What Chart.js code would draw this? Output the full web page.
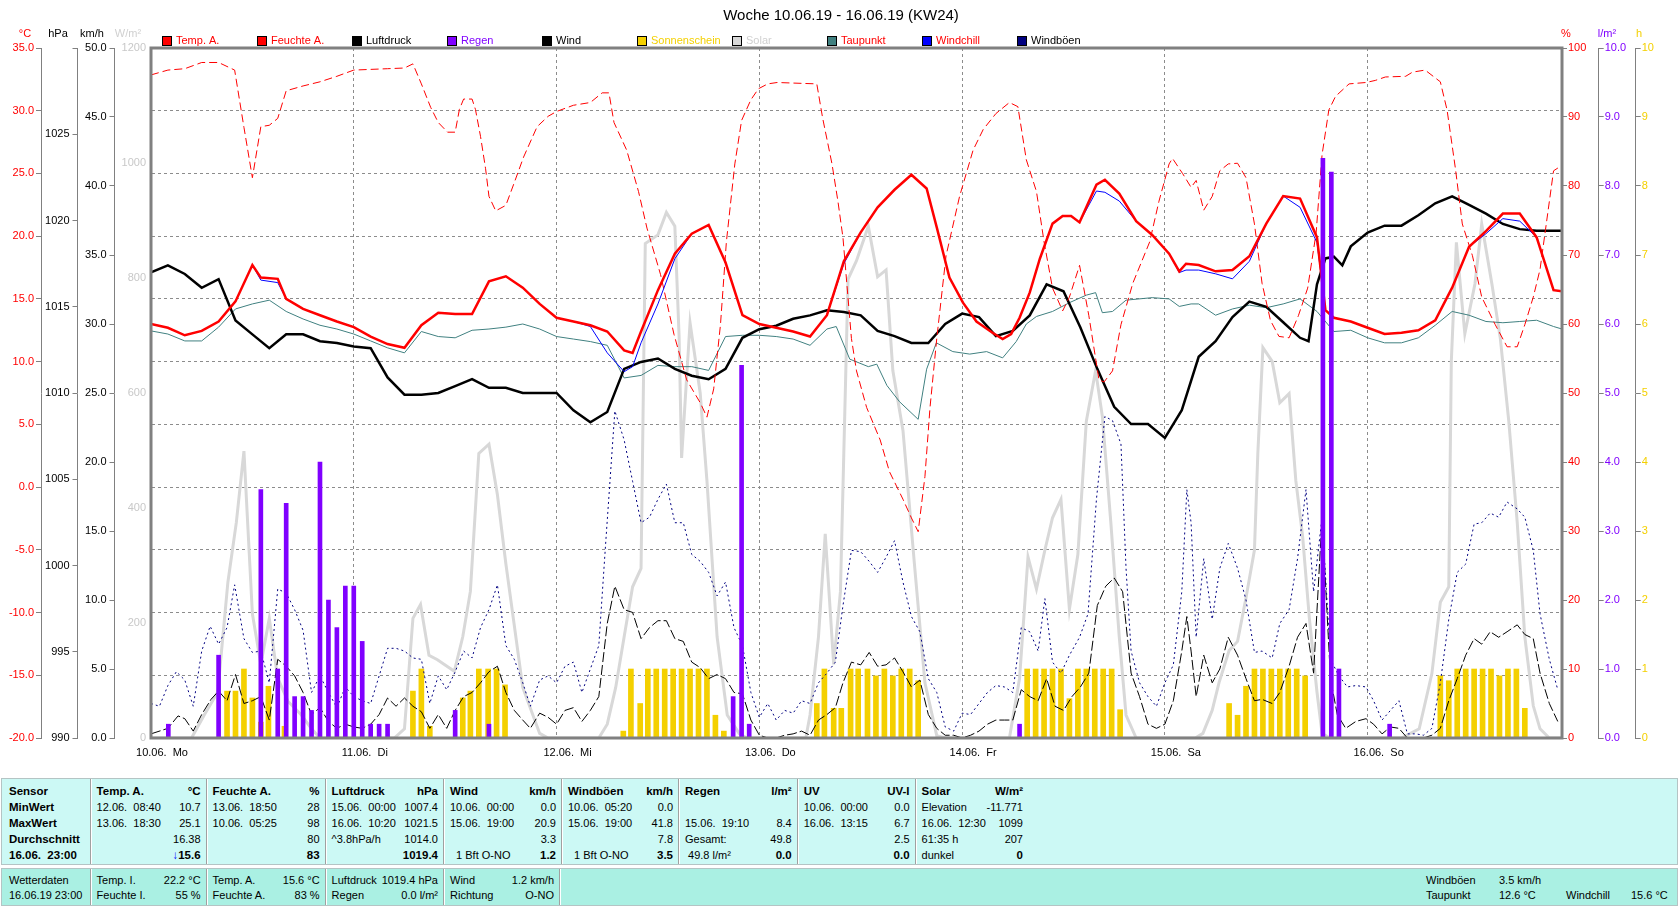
<!DOCTYPE html>
<html>
<head>
<meta charset="utf-8">
<script src="https://cdn.jsdelivr.net/npm/chart.js@4.4.1/dist/chart.umd.min.js"></script>
<style>
  html, body { margin: 0; padding: 0; background: #fff; }
  body { width: 1680px; height: 909px; position: relative; overflow: hidden;
         font-family: "Liberation Sans", Arial, sans-serif; font-size: 11px; color: #000; }
  #wrap { position: absolute; left: 0; top: 0; width: 1680px; height: 770px; }
  .panel { position: absolute; left: 1px; width: 1677px; box-sizing: border-box;
           border: 1px solid #b4c4c4; }
  #stats { top: 778px; height: 87px; background: #ccf9f5; }
  #now { top: 868px; height: 38px; background: #aaf0e3; }
  .col { position: absolute; top: 0; box-sizing: border-box; padding: 4px 6px 0 6px; }
  .row { display: flex; justify-content: space-between; white-space: pre; }
  #stats .row { height: 16px; line-height: 16px; }
  #now .row { height: 15px; line-height: 15px; }
  .b { font-weight: bold; font-size: 11.5px; }
  .sep { position: absolute; top: 0; bottom: 0; width: 1px; background: #a0a0a0;
         box-shadow: 1px 0 0 #fff; }
  .free { position: absolute; white-space: pre; line-height: 15px; }
</style>
</head>
<body>
<div id="wrap"><canvas id="chart" width="1680" height="770"></canvas></div>
<div id="stats" class="panel"></div>
<div id="now" class="panel"></div>
<script>
// ---- chart data (x = hours since 10.06. 00:00) ----
const chartTitle = "Woche 10.06.19 - 16.06.19 (KW24)";
const dayLabels = ["10.06.  Mo", "11.06.  Di", "12.06.  Mi", "13.06.  Do", "14.06.  Fr", "15.06.  Sa", "16.06.  So"];

const tempHours = [0,2,4,6,8,10,12,13,15,16,18,20,22,24,26,28,30,32,34,36,38,40,42,44,46,48,50,52,54,56,57,58,60,62,64,66,68,70,72,74,76,78,80,82,84,86,88,90,91.8,93,94.5,96.1,97.7,99.6,100.8,101.8,102.8,104,105.2,106.7,107.9,108.9,109.9,111.9,112.9,114.6,116.6,118.5,120.5,121.7,122.5,124,126,128,130,132,134,136,138,139,140,142,144,146,148,150,152,154,156,158,160,162,164,166,167];
const tempValues = [13.0,12.7,12.1,12.45,13.2,14.8,17.7,16.7,16.6,15.0,
  14.2,13.7,13.2,12.75,12.0,11.4,11.1,12.9,13.9,13.8,
  13.8,16.4,16.8,15.9,14.6,13.5,13.2,12.9,12.4,10.9,
  10.7,12.4,15.7,18.6,20.2,20.9,17.9,13.7,13.0,12.7,
  12.4,12.0,13.7,18.0,20.3,22.3,23.7,24.9,23.8,20.7,
  16.7,14.7,13.2,12.3,11.8,12.2,13.5,15.5,18.2,21.0,
  21.6,21.6,21.1,24.1,24.5,23.4,21.2,20.1,18.6,17.2,
  17.8,17.7,17.2,17.3,18.4,21.0,23.2,23.0,19.9,14.1,
  13.5,13.2,12.7,12.2,12.3,12.5,13.3,15.9,19.15,20.4,
  21.8,21.8,19.9,15.7,15.6];
const windchillValues = [13.0,12.7,12.1,12.45,13.2,14.8,17.7,16.5,16.3,15.0,
  14.2,13.7,13.2,12.75,12.0,11.4,11.1,12.9,13.9,13.8,
  13.8,16.4,16.8,15.9,14.6,13.5,13.2,12.8,10.7,9.2,
  9.6,11.5,14.6,18.2,20.2,20.9,17.9,13.7,13.0,12.7,
  12.4,12.0,13.7,17.8,20.3,22.3,23.7,24.9,23.8,20.7,
  16.7,14.7,13.2,12.3,11.8,12.2,13.5,15.5,18.2,21.0,
  21.6,21.6,21.1,23.6,23.5,22.8,21.2,20.1,18.6,17.1,
  17.3,17.3,17.0,16.6,18.0,21.0,23.2,22.3,19.5,14.1,
  13.5,13.2,12.7,12.2,12.3,12.5,13.3,15.9,19.15,20.2,
  21.4,21.2,19.9,15.7,15.6];

const dewHours = [0,2,4,6,8,10,12,14,16,18,20,22,24,26,28,30,32,34,36,38,40,42,44,46,48,50,52,54,56,58,60,62,64,66,68,70,72,74,76,78,80,
  81.1,82.7,84.9,85.9,87.1,88.6,90.8,91.8,92.95,94.9,96.9,98.9,100.8,102.4,103.6,104.8,106.7,108.7,110.7,111.8,112.6,113.8,115.4,118.5,120.5,121.7,123.1,
  124,126,128,130,132,134,136,138,140,142,144,146,148,150,152,154,156,158,160,162,164,166,167];
const dewValues = [12.45,12.2,11.65,11.65,12.75,14.2,14.6,14.9,14.0,13.4,
  12.9,12.6,12.2,11.65,11.1,10.7,12.4,12.0,11.9,12.5,
  12.6,12.75,13.0,12.6,12.0,11.8,11.6,11.3,8.7,8.9,
  9.7,9.6,9.6,9.3,12.0,12.1,12.1,12.0,11.8,11.3,12.6,
  12.8,10.2,9.6,9.8,8.1,6.8,5.4,9.4,11.5,10.8,
  10.6,10.8,10.3,11.6,13.0,13.6,14.0,14.7,15.3,15.5,
  13.9,14.0,14.9,15.1,15.0,14.4,14.6,
  14.6,13.7,14.2,14.5,14.3,14.6,15.0,14.0,12.4,12.5,
  11.9,11.5,11.5,11.9,12.9,14.0,13.7,13.2,13.1,13.2,
  13.3,12.8,12.6];

const pressHours = [0,2,4,6,8,10,12,14,16,18,20,22,24,26,28,30,32,34,36,38,40,42,44,46,48,50,52,54,56,58,60,62,64,66,68,70,72,74,76,78,80,82,84,86,88,90,92,94,96,98,100,102,104,106,108,110,112,114,116,118,120,122,124,126,128,130,132,134,136,
  137,138,139,140,141,142,144,146,148,150,152,154,156,158,160,162,164,166,167];
const pressValues = [1017.0,1017.4,1016.9,1016.1,1016.6,1014.2,1013.4,1012.6,1013.4,1013.4,
  1013.0,1012.9,1012.7,1012.6,1010.9,1009.9,1009.9,1010.0,1010.4,1010.8,
  1010.3,1010.3,1010.0,1010.0,1010.0,1009.0,1008.3,1008.9,1011.4,1011.8,
  1012.0,1011.4,1011.0,1010.8,1011.4,1013.2,1013.7,1013.9,1014.3,1014.5,
  1014.8,1014.7,1014.5,1013.6,1013.3,1012.9,1012.9,1014.0,1014.6,1014.4,
  1013.3,1013.6,1014.5,1016.3,1015.9,1013.8,1011.4,1009.2,1008.2,1008.2,
  1007.4,1009.0,1012.1,1013.0,1014.4,1015.3,1015.0,1014.1,1013.2,
  1013.0,1016.3,1017.8,1017.9,1017.4,1018.5,1019.3,1019.7,1019.7,1020.3,
  1021.0,1021.4,1020.9,1020.4,1019.8,1019.5,1019.4,1019.4,1019.4];

const humHours = [0,2,4,6,8,9.9,11,12,13,14,15,16,18,20,22,24,26,28,30,31,32,33.1,34,35.1,36,36.5,37,38,38.4,39,39.6,40,40.8,42,43,44.1,45.7,47,48,50,52,53.4,54.2,54.8,56.3,57.7,58.7,60.3,61.9,63.4,65,65.8,66.6,67.4,68.1,69.1,69.9,71,71.9,73,74.1,78.8,79.5,80.6,81.3,81.9,82.9,83.5,84.7,86.3,87.4,89,90,90.8,91.6,92.2,93,94.1,95.7,97.3,98.5,100,101.6,102.6,103.6,104.8,105.7,106.7,107.9,108.7,109.9,111,112.2,112.8,113.8,114.8,116.2,118.2,119.3,120.5,120.9,122.1,123.1,123.7,124.6,125.6,126.5,127.5,128.6,129.6,130.6,131.5,132.5,133.5,134.7,135.8,136.9,137.9,138.6,139.4,140.2,141.8,143.8,144.9,146.1,148.5,149.3,150.8,152.6,153.4,154.4,155.2,156.4,157.5,159.1,160.5,161.7,162.6,163.6,164.4,166,167];
const humValues = [96.1,96.8,97.0,97.9,97.9,96.8,88.5,81.2,88.6,88.8,89.8,93.8,94.5,95.1,95.9,96.8,96.9,97.0,97.1,97.7,94.8,91.4,89.2,87.8,87.8,91.1,92.6,92.6,91.1,87.2,82.5,78.5,76.4,77.2,80.5,84.2,88.6,90.1,90.8,91.7,92.1,93.5,93.5,89.2,85.2,79.2,73.9,67.2,58.5,51.9,48.6,46.5,50.6,59.9,71.9,83.2,89.5,92.5,94.1,94.8,95.0,94.8,89.8,83.2,77.8,72.5,57.9,53.2,47.9,43.2,38.6,34.6,31.9,29.9,37.9,47.9,57.9,69.9,78.5,85.2,88.2,90.5,92.1,91.5,83.8,79.2,71.9,65.2,61.9,63.9,68.5,61.2,51.9,51.6,53.2,59.9,65.9,71.9,77.8,83.2,84.0,81.8,79.8,80.8,76.5,78.5,82.2,83.2,83.3,81.2,74.5,65.9,60.5,58.2,58.0,61.2,65.2,73.2,84.5,91.0,93.0,94.8,95.0,95.3,95.8,95.9,96.5,96.8,95.1,91.0,82.4,74.5,69.9,63.9,59.9,56.7,56.7,59.9,63.9,67.9,82.2,83];

const solarHours = [0,4.8,6.3,7.9,9.1,10.1,11,12,13,14,15,16.2,17.8,19,20,28.8,30,31,31.9,32.9,33.9,35.9,36.9,37.8,38.8,40,41,42,44,46,47,53,54,55,56,57,58,58.5,60,61,62,62.5,62.8,63.8,65,65.8,67,68.2,69.6,70.5,77.5,78,79,79.8,80.8,81.6,82.5,83.5,84.9,86,87,87.8,89,90.4,91.6,93,94,101.6,102.8,103.8,104.8,105.8,106.7,107.7,108.7,109.7,110.7,111.8,112.6,113.6,114.6,115.4,116.6,123.6,124.5,125.6,126.4,127.6,128.6,129.6,130.6,131,131.6,132.7,133.6,134.7,135.5,136.3,137.1,138,138.6,139.5,148,150.1,151.6,152.6,153.6,153.9,154.5,155.5,156.7,157.5,158.7,159.7,160.7,161.7,162.6,163.6,164.4,165.5,167];
const solarValues = [0,0,40,80,271,375,499,216,128,208,104,64,40,16,0,0,16,208,232,144,136,116,176,255,495,511,423,303,88,8,0,0,24,88,176,263,295,860,875,914,890,700,487,722,600,447,176,40,8,0,0,40,176,355,128,255,798,830,890,802,814,639,535,295,96,4,0,0,104,315,259,327,383,415,224,319,551,639,559,375,176,40,0,0,8,48,96,152,168,244,327,495,679,655,583,599,447,351,208,80,8,0,0,16,112,236,263,655,862,703,790,894,790,695,551,375,176,56,16,0,0];

const windHours = [0,2,3.2,4,5,6,7.1,8,9,10,11,12,13,14,15,16,17,18,19,20,21,22,23,24,25,26,27,28,29,30,31,32,33,34,35,36,37,38,39,40,41,42,43,44,44.9,46,47,48,49,50,51,52,53,54,54.9,56,57,58,59,60,61,62,63,64,65,66,67,68,69,70,71,72,73,74,75,76,77,78,79,80,81,81.9,82.9,84,85,86,87,88,89,90,91,92,93,94,95,96,97,98,99,100,101,102,103,104,105,106,107,108,109,110,111,112,113,114,115,116,117,118,119,120,121,122,122.6,123.1,123.7,124.6,125.6,126.5,127.5,128.6,129.6,130.6,131.5,132.7,133.6,134.7,135.7,136.7,137.6,138.6,139.6,140.4,141.4,142.6,143.8,144.7,145.7,146.7,147.7,148.7,149.7,150.6,151.6,152.6,153.6,154.6,155.6,156.6,157.5,158.5,159.5,160.5,161.7,162.6,163.6,164.4,165.5,166.5];
const windValues = [0.3,0.7,1.6,1.4,0.5,1.7,2.8,3.4,2.7,4.6,2.5,2.7,3.0,1.3,5.7,5.2,4.5,3.3,1.7,2.2,1.2,0.7,1.0,0.8,0.7,1.0,1.7,2.9,2.3,2.9,2.3,1.9,0.7,1.7,0.7,2.0,3.0,3.3,4.0,4.8,5.2,3.3,2.0,1.3,0.7,1.8,1.5,1.0,2.0,2.2,1.2,2.0,3.0,8.3,11.0,9.3,9.1,7.2,8.0,8.5,8.5,7.2,7.0,5.5,5.1,4.3,4.6,4.3,3.3,3.2,1.3,0.2,0,0,0.2,0.3,0.5,0.2,1.3,1.7,2.2,4.0,5.5,5.3,6.2,5.2,5.3,5.8,4.8,3.7,4.2,1.7,0.7,0.2,0.2,0,0.2,0.5,1.0,1.3,1.3,1.3,3.5,3.0,2.7,4.3,2.3,2.0,3.0,3.7,4.7,9.6,11.0,11.6,10.6,4.7,3.0,1.0,0.7,1.0,2.7,6.3,8.8,6.3,3.0,6.0,4.0,5.0,7.3,6.0,4.3,2.7,2.8,2.5,3.3,5.2,7.3,8.3,4.7,16.0,4.3,1.7,0.7,1.2,1.4,1.0,0.3,0.8,0.7,0,0,0,0.2,0.7,2.7,4.3,6.0,7.2,6.8,7.7,7.3,7.7,8.2,7.5,7.2,4.7,2.5,1.2];

const gustHours = [0,1,2,3,4,5,6,7,8,9,9.9,11,12,13,14,15,16,17,18,19,20,21,22,23,24,25,26,27,28,29,30,31,32,33,34,35,36,37,38,39,40,41,42,43,44,44.9,46,47,48,49,50,51,52,53,53.8,54.9,56,57,58,59,60,61,62,63,64,65,66,67,68,69,70,71,72,73,74,75,76,77,78,79,80,81,81.9,82.9,84,85,86,87,88,89,90,91,92,93,94,95,96,97,98,99,100,101,102,103,104,105,105.8,106.7,107.7,108.7,109.9,110.9,111.9,112.9,113.8,114.8,115.4,116,117,118,119,120,121,122,122.6,123.1,123.7,124.6,125.6,126.5,127.5,128.6,129.6,130.6,131.5,132.7,133.6,134.7,135.7,136.7,137.6,138.6,139.6,140.6,141.6,142.6,143.8,144.7,145.7,146.7,147.7,148.7,149.7,150.6,151.6,152.6,153.6,154.6,155.6,156.6,157.5,158.5,159.5,160.5,161.7,162.6,163.6,164.4,165.5,166.5];
const gustValues = [2.5,2.3,3.8,4.8,4.2,2.3,6.3,8.1,6.8,8.0,11.1,7.2,6.2,6.3,4.0,10.8,10.5,9.3,7.8,3.3,4.5,3.3,2.2,3.7,3.0,2.7,2.5,4.5,6.5,6.5,6.3,5.8,5.7,2.5,4.5,3.5,4.8,6.3,5.8,8.0,9.3,11.1,6.7,5.7,4.0,2.3,4.2,4.5,4.0,5.2,5.5,3.3,5.0,6.7,14.0,23.7,21.6,18.6,15.6,16.0,17.3,18.4,15.6,15.6,13.3,12.8,12.0,10.3,11.3,8.0,6.7,3.3,1.5,2.5,1.3,2.0,1.8,2.7,2.5,4.0,4.7,5.5,9.6,13.6,13.5,12.8,12.0,13.1,14.3,11.3,8.8,7.7,4.3,3.3,0.8,0.5,1.8,1.7,2.5,3.3,3.8,3.7,3.3,8.0,7.7,6.3,10.1,5.5,4.7,6.0,7.3,9.0,17.3,23.3,23.0,21.3,12.3,6.3,4.0,3.0,2.3,4.0,5.3,10.6,18.0,15.6,7.3,13.0,8.6,12.3,14.1,12.3,10.0,6.2,6.3,5.8,8.3,9.3,13.0,18.0,10.6,16.0,5.7,4.5,3.7,3.8,3.7,2.7,1.3,2.0,2.7,0.3,0.3,0.2,0.7,4.0,8.6,12.0,12.6,15.5,15.6,16.3,16.0,17.1,16.6,16.0,13.6,9.0,5.7,3.5];

const rainHours = [2.05,8,13,15,16,17,18,19,20,21,22,23,24,25,26,27,28,36,40,68.9,69.9,70.8,102.8,138.7,139.7,140.6,146.6];
const rainValues = [0.2,1.2,3.6,1.0,3.4,0.6,0.6,0.4,4.0,2.0,1.6,2.2,2.2,1.4,0.2,0.2,0.2,0.4,0.2,0.6,5.4,0.2,0.2,8.4,8.2,1.0,0.2];

const sunHours = [9,10,11,12,13,13.9,15.8,31,32,33,36.9,37.8,38.8,39.9,40.9,41.9,55.9,56.8,57.9,58.8,59.8,60.8,61.8,62.8,63.8,64.8,65.8,66.8,67.8,78.8,79.7,80.8,81.7,82.8,83.7,84.8,85.8,86.8,87.8,88.8,89.8,90.8,103.7,104.7,105.7,106.7,107.7,108.7,109.7,110.7,111.7,112.7,113.7,114.7,127.6,128.6,129.6,130.6,131.6,132.6,133.6,134.6,135.6,136.6,152.6,153.6,154.6,155.6,156.6,157.6,158.6,159.6,160.6,161.6,162.6];
const sunValues = [0.68,0.68,1.0,0.58,0.23,0.75,0.17,0.68,1.0,0.17,0.58,0.68,1.0,1.0,1.0,0.77,0.1,1.0,0.5,1.0,1.0,1.0,1.0,1.0,1.0,1.0,1.0,0.33,0.1,0.5,1.0,0.43,0.43,1.0,1.0,1.0,0.9,1.0,0.9,1.0,1.0,0.83,1.0,1.0,1.0,1.0,1.0,0.57,1.0,1.0,1.0,1.0,1.0,0.41,0.5,0.33,0.75,1.0,1.0,1.0,1.0,1.0,1.0,0.9,0.9,0.83,1.0,1.0,1.0,1.0,1.0,0.9,1.0,1.0,0.43];

// legend entries: label, box colour, text colour
const legendItems = [
  ["Temp. A.", "#ff0000", "#ff0000"],
  ["Feuchte A.", "#ff0000", "#ff0000"],
  ["Luftdruck", "#000000", "#000000"],
  ["Regen", "#8000ff", "#8000ff"],
  ["Wind", "#000000", "#000000"],
  ["Sonnenschein", "#f4d000", "#f4d000"],
  ["Solar", "#d8d8d8", "#d0d0d0"],
  ["Taupunkt", "#408080", "#ff0000"],
  ["Windchill", "#0000ff", "#ff0000"],
  ["Windböen", "#000080", "#000000"]
];
const unitLabels = [
  ["°C", 25, "#ff0000"], ["hPa", 58, "#000000"], ["km/h", 92, "#000000"], ["W/m²", 128, "#d0d0d0"],
  ["%", 1566, "#ff0000"], ["l/m²", 1607, "#8000ff"], ["h", 1639, "#f4d000"]
];

// ---- table texts ----
const statEdges = [0, 88.6, 204.6, 323.6, 442, 560, 677, 795.7, 913.6, 1027];
const statTable = [
  [["Sensor", ""], ["MinWert", ""], ["MaxWert", ""], ["Durchschnitt", ""], ["16.06.  23:00", ""]],
  [["Temp. A.", "°C"], ["12.06.  08:40", "10.7"], ["13.06.  18:30", "25.1"], ["", "16.38"], ["", "15.6"]],
  [["Feuchte A.", "%"], ["13.06.  18:50", "28"], ["10.06.  05:25", "98"], ["", "80"], ["", "83"]],
  [["Luftdruck", "hPa"], ["15.06.  00:00", "1007.4"], ["16.06.  10:20", "1021.5"], ["^3.8hPa/h", "1014.0"], ["", "1019.4"]],
  [["Wind", "km/h"], ["10.06.  00:00", "0.0"], ["15.06.  19:00", "20.9"], ["", "3.3"], ["  1 Bft O-NO", "1.2"]],
  [["Windböen", "km/h"], ["10.06.  05:20", "0.0"], ["15.06.  19:00", "41.8"], ["", "7.8"], ["  1 Bft O-NO", "3.5"]],
  [["Regen", "l/m²"], ["", ""], ["15.06.  19:10", "8.4"], ["Gesamt:", "49.8"], [" 49.8 l/m²", "0.0"]],
  [["UV", "UV-I"], ["10.06.  00:00", "0.0"], ["16.06.  13:15", "6.7"], ["", "2.5"], ["", "0.0"]],
  [["Solar", "W/m²"], ["Elevation", "-11.771"], ["16.06.  12:30", "1099"], ["61:35 h", "207"], ["dunkel", "0"]]
];
const nowEdges = [0, 88.6, 204.6, 323.6, 442, 558];
const nowTable = [
  [["Wetterdaten", ""], ["16.06.19 23:00", ""]],
  [["Temp. I.", "22.2 °C"], ["Feuchte I.", "55 %"]],
  [["Temp. A.", "15.6 °C"], ["Feuchte A.", "83 %"]],
  [["Luftdruck", "1019.4 hPa"], ["Regen", "0.0 l/m²"]],
  [["Wind", "1.2 km/h"], ["Richtung", "O-NO"]]
];
const nowExtraText = ["Windböen", "3.5 km/h", "Taupunkt", "12.6 °C", "Windchill", "15.6 °C"];
const nowExtraPos = [[1425, 0], [1498, 0], [1425, 1], [1498, 1], [1565, 1], [1630, 1]];

// ---- build tables ----
function buildPanel(el, edges, table, boldFn) {
  table.forEach((rows, c) => {
    const col = document.createElement("div");
    col.className = "col";
    col.style.left = edges[c] + "px";
    col.style.width = (edges[c + 1] - edges[c]) + "px";
    if (c === 0) col.style.paddingLeft = "7px";
    rows.forEach((r, i) => {
      const row = document.createElement("div");
      row.className = "row";
      const a = document.createElement("span");
      const b = document.createElement("span");
      a.textContent = r[0];
      b.textContent = r[1];
      const bs = boldFn(c, i);
      if (bs[0]) a.className = "b";
      if (bs[1]) b.className = "b";
      if (el.id === "stats" && c === 1 && i === 4) {
        const arrow = document.createElement("span");
        arrow.textContent = "\u2193";
        arrow.style.color = "#0000ff";
        b.prepend(arrow);
      }
      row.appendChild(a);
      row.appendChild(b);
      col.appendChild(row);
    });
    el.appendChild(col);
    if (c > 0) {
      const s = document.createElement("div");
      s.className = "sep";
      s.style.left = (edges[c] - 1) + "px";
      el.appendChild(s);
    }
  });
}
const stats = document.getElementById("stats");
buildPanel(stats, statEdges, statTable, (c, i) => [c === 0 || i === 0, i === 0 || i === 4]);
const now = document.getElementById("now");
buildPanel(now, nowEdges, nowTable, () => [false, false]);
const endSep = document.createElement("div");
endSep.className = "sep";
endSep.style.left = (nowEdges[nowEdges.length - 1] - 1) + "px";
now.appendChild(endSep);
nowExtraText.forEach((t, i) => {
  const d = document.createElement("div");
  d.className = "free";
  d.textContent = t;
  d.style.left = (nowExtraPos[i][0] - 1) + "px";
  d.style.top = (4 + nowExtraPos[i][1] * 15) + "px";
  now.appendChild(d);
});

// ---- chart ----
const FONT = '"Liberation Sans", Arial, sans-serif';
Chart.defaults.font.family = FONT;
Chart.defaults.font.size = 11;
Chart.defaults.color = "#000";

const pts = (xs, ys) => xs.map((x, i) => ({ x: x, y: ys[i] }));

const decorations = {
  id: "decorations",
  afterDraw(chart) {
    const ctx = chart.ctx;
    const a = chart.chartArea;
    ctx.save();
    // plot frame
    ctx.strokeStyle = "#808080";
    ctx.lineWidth = 3;
    ctx.strokeRect(a.left, a.top, a.right - a.left, a.bottom - a.top);
    // title
    ctx.fillStyle = "#000";
    ctx.font = "15px " + FONT;
    ctx.textAlign = "center";
    ctx.textBaseline = "middle";
    ctx.fillText(chartTitle, 841, 16);
    // units above the axes
    ctx.font = "11px " + FONT;
    unitLabels.forEach(u => {
      ctx.fillStyle = u[2];
      ctx.fillText(u[0], u[1], 34);
    });
    // legend
    ctx.textAlign = "left";
    legendItems.forEach((it, i) => {
      const x = Math.round(161.8 + 95.03 * i);
      ctx.fillStyle = it[1];
      ctx.fillRect(x, 36, 10, 10);
      ctx.strokeStyle = "#000";
      ctx.lineWidth = 1;
      ctx.strokeRect(x + 0.5, 36.5, 9, 9);
      ctx.fillStyle = it[2];
      ctx.fillText(it[0], x + 14, 41);
    });
    ctx.restore();
  }
};

const gray = "#808080";
function leftAxis(weight, width, min, max, step, color, fmt, pad) {
  return {
    position: "left", weight: weight, min: min, max: max,
    ticks: { stepSize: step, color: color, padding: pad, maxTicksLimit: 30, callback: fmt },
    grid: { drawOnChartArea: false, drawTicks: true, tickLength: 5, tickColor: gray, color: gray },
    border: { display: true, color: gray, width: 1 },
    afterFit: s => { s.width = width; }
  };
}
function rightAxis(weight, width, min, max, step, color, fmt) {
  return {
    position: "right", weight: weight, min: min, max: max,
    ticks: { stepSize: step, color: color, padding: 1, maxTicksLimit: 30, callback: fmt },
    grid: { drawOnChartArea: false, drawTicks: true, tickLength: 5, tickColor: gray, color: gray },
    border: { display: true, color: gray, width: 1 },
    afterFit: s => { s.width = width; }
  };
}

const yTemp = leftAxis(4, 41, -20, 35, 5, "#ff0000", v => v.toFixed(1), 2);
yTemp.grid.drawOnChartArea = true;
yTemp.grid.color = "#8c8c8c";
yTemp.border.dash = [3, 3];

new Chart(document.getElementById("chart"), {
  type: "line",
  data: {
    datasets: [
      { label: "Regen", type: "bar", data: pts(rainHours, rainValues), yAxisID: "yRain",
        backgroundColor: "#8000ff", barThickness: 4, grouped: false, order: 0 },
      { label: "Temp. A.", data: pts(tempHours, tempValues), yAxisID: "yTemp",
        borderColor: "#ff0000", borderWidth: 2.5, pointRadius: 0, order: 1 },
      { label: "Windchill", data: pts(tempHours, windchillValues), yAxisID: "yTemp",
        borderColor: "#0000ff", borderWidth: 1, pointRadius: 0, order: 2 },
      { label: "Feuchte A.", data: pts(humHours, humValues), yAxisID: "yHum",
        borderColor: "#ff0000", borderWidth: 1, borderDash: [8, 4], pointRadius: 0, order: 3 },
      { label: "Luftdruck", data: pts(pressHours, pressValues), yAxisID: "yPress",
        borderColor: "#000000", borderWidth: 2.5, pointRadius: 0, order: 4 },
      { label: "Taupunkt", data: pts(dewHours, dewValues), yAxisID: "yTemp",
        borderColor: "#408080", borderWidth: 1, pointRadius: 0, order: 5 },
      { label: "Windböen", data: pts(gustHours, gustValues), yAxisID: "yWind",
        borderColor: "#000080", borderWidth: 1, borderDash: [2, 3], pointRadius: 0, order: 6 },
      { label: "Wind", data: pts(windHours, windValues), yAxisID: "yWind",
        borderColor: "#000000", borderWidth: 1, borderDash: [10, 3], pointRadius: 0, order: 7 },
      { label: "Sonnenschein", type: "bar", data: pts(sunHours, sunValues), yAxisID: "ySun",
        backgroundColor: "#f4d000", barThickness: 5, grouped: false, order: 8 },
      { label: "Solar", data: pts(solarHours, solarValues), yAxisID: "ySolar",
        borderColor: "#d8d8d8", borderWidth: 3, pointRadius: 0, order: 9 }
    ]
  },
  options: {
    responsive: false,
    animation: false,
    devicePixelRatio: 1,
    events: [],
    layout: { padding: { top: 48, left: 0, right: 0, bottom: 0 } },
    plugins: { legend: { display: false }, title: { display: false }, tooltip: { enabled: false } },
    scales: {
      x: {
        type: "linear", position: "bottom", min: 0, max: 167, offset: false,
        ticks: { stepSize: 24, includeBounds: false, autoSkip: false, maxRotation: 0,
                 padding: 8, labelOffset: 11, color: "#000",
                 callback: v => dayLabels[Math.round(v / 24)] || "" },
        grid: { color: "#8c8c8c", drawTicks: false, drawOnChartArea: true, offset: false },
        border: { display: false, dash: [3, 3] },
        afterFit: s => { s.height = 32; }
      },
      yTemp: yTemp,
      yPress: leftAxis(3, 36.5, 990, 1030, 5, "#000", v => (v === 1030 ? "" : String(v)), 3),
      yWind: leftAxis(2, 37, 0, 50, 5, "#000", v => v.toFixed(1), 3),
      ySolar: {
        position: "left", weight: 1, min: 0, max: 1200,
        ticks: { stepSize: 200, color: "#c8c8c8", padding: 5, maxTicksLimit: 30, callback: v => String(v) },
        grid: { display: false, drawTicks: false, drawOnChartArea: false },
        border: { display: false },
        afterFit: s => { s.width = 36.5; }
      },
      yHum: rightAxis(1, 36.7, 0, 100, 10, "#ff0000", v => String(v)),
      yRain: rightAxis(2, 37, 0, 10, 1, "#8000ff", v => v.toFixed(1)),
      ySun: rightAxis(3, 44.3, 0, 10, 1, "#f4d000", v => String(v))
    }
  },
  plugins: [decorations]
});
</script>
</body>
</html>
